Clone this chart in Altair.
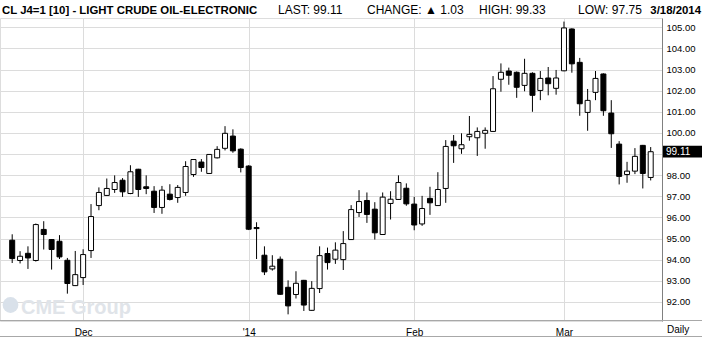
import json
import altair as alt
import pandas as pd

# ---- data (daily OHLC, CL J4 light crude) ----
opens = [94.92, 93.96, 94.30, 93.96, 95.43, 94.95, 94.87, 93.97, 92.77, 93.15,
         94.43, 96.56, 97.04, 97.32, 97.76, 97.13, 98.28, 97.45, 97.24, 96.47,
         97.10, 96.94, 97.18, 98.03, 98.62, 98.08, 98.82, 99.27, 99.85, 99.23,
         98.43, 95.52, 94.21, 93.56, 94.02, 92.69, 92.35, 93.02, 91.60, 92.63,
         94.29, 94.02, 94.00, 94.95, 96.23, 96.80, 96.39, 95.19, 96.66, 96.85,
         97.38, 96.63, 95.69, 96.90, 96.56, 97.37, 99.61, 99.25, 99.82, 99.77,
         99.98, 100.07, 102.54, 102.93, 102.87, 102.25, 102.82, 102.01, 102.60, 102.11,
         102.94, 104.92, 103.34, 100.97, 101.92, 102.79, 100.94, 99.47, 98.03, 98.19,
         99.41, 97.89]
highs = [95.20, 94.40, 94.63, 95.71, 95.82, 94.97, 95.16, 94.08, 94.41, 94.49,
         96.63, 97.42, 97.84, 97.99, 97.86, 98.47, 98.30, 97.99, 97.48, 97.49,
         97.57, 97.53, 98.66, 98.76, 98.76, 99.00, 99.37, 100.32, 100.17, 99.27,
         98.47, 95.77, 94.63, 94.21, 94.15, 93.02, 93.45, 93.04, 92.98, 94.63,
         94.57, 94.82, 95.35, 96.58, 97.29, 97.18, 96.72, 97.18, 97.24, 97.99,
         97.61, 96.97, 97.02, 97.45, 98.14, 99.66, 99.90, 99.98, 100.80, 100.26,
         100.26, 102.69, 103.29, 103.09, 102.91, 103.51, 102.87, 102.93, 103.12, 102.98,
         105.27, 104.95, 103.55, 102.08, 102.93, 102.82, 101.55, 99.61, 98.63, 99.28,
         99.43, 99.33]
lows = [93.84, 93.82, 93.56, 93.91, 94.48, 93.53, 94.03, 92.39, 92.75, 92.80,
        94.08, 96.34, 97.02, 97.16, 96.97, 97.10, 96.97, 97.10, 96.21, 96.17,
        96.80, 96.69, 97.02, 97.92, 98.16, 98.06, 98.79, 99.17, 99.06, 98.13,
        95.40, 94.03, 93.27, 93.48, 92.33, 91.41, 92.16, 91.57, 91.58, 92.42,
        93.53, 93.80, 93.51, 94.93, 96.02, 95.74, 94.95, 95.17, 95.90, 96.83,
        96.55, 95.39, 95.60, 96.12, 96.54, 96.69, 98.58, 99.01, 99.63, 98.91,
        99.25, 100.05, 101.95, 102.28, 101.66, 101.97, 101.00, 101.55, 101.78, 101.81,
        102.92, 102.85, 100.81, 100.10, 101.55, 100.81, 99.29, 97.56, 97.64, 98.05,
        97.37, 97.75]
closes = [94.05, 94.16, 94.08, 95.66, 95.19, 94.48, 94.13, 92.87, 93.29, 94.24,
          96.04, 97.18, 97.37, 97.65, 97.21, 98.16, 97.32, 97.37, 96.47, 97.29,
          96.85, 97.42, 98.41, 98.74, 98.36, 98.98, 99.22, 99.98, 99.15, 98.36,
          95.44, 95.47, 93.42, 93.69, 92.36, 91.81, 92.88, 91.85, 92.64, 94.19,
          93.86, 94.45, 94.76, 96.37, 96.75, 96.14, 95.27, 96.96, 96.86, 97.65,
          96.64, 95.64, 96.42, 96.69, 97.32, 99.36, 99.39, 99.44, 99.93, 100.07,
          100.12, 102.09, 102.87, 102.73, 102.16, 102.82, 101.78, 102.58, 102.33, 102.60,
          104.97, 103.27, 101.38, 101.54, 102.58, 101.05, 99.96, 97.94, 98.19, 98.89,
          98.08, 99.11]

holidays = ["2013-11-28", "2013-12-25", "2014-01-01", "2014-01-20", "2014-02-17"]
month_tick_labels = ["Dec", "'14", "Feb", "Mar"]
y_ticks = [92, 93, 94, 95, 96, 97, 98, 99, 100, 101, 102, 103, 104, 105]

symbol_title = "CL J4=1 [10] - LIGHT CRUDE OIL-ELECTRONIC"
period_label = "Daily"
brand = "CME Group"

# trading calendar
dates = [d for d in pd.bdate_range("2013-11-18", "2014-03-18")
         if d.strftime("%Y-%m-%d") not in holidays]
n = len(opens)
dates = dates[-n:]

df = pd.DataFrame({
    "idx": list(range(n)),
    "date": [d.strftime("%Y-%m-%d") for d in dates],
    "open": opens, "high": highs, "low": lows, "close": closes,
})
df["down"] = df["close"] < df["open"]

tick_idx = [i for i in range(1, n) if dates[i].month != dates[i - 1].month]
label_expr = ""
for i, lab in zip(tick_idx, month_tick_labels):
    label_expr += f"datum.value == {i} ? {json.dumps(lab)} : "
label_expr += "''"

# the last-price tag hides the grid label it sits on
last_close = closes[-1]
y_label_expr = (f"abs(datum.value - {last_close}) < 0.5 ? '' : "
                "format(datum.value, '.2f')")

SANS = "'Liberation Sans', Arial, sans-serif"
GRID = "#dcdcdc"

W, H = 662, 303
xs = alt.Scale(domain=[-0.9125, 81.8], nice=False, zero=False)
ys = alt.Scale(domain=[91.095, 105.44], nice=False, zero=False)

xaxis = alt.Axis(values=tick_idx, labelExpr=label_expr, grid=True, gridColor=GRID,
                 ticks=False, domain=False, title=None, labelFont=SANS,
                 labelFontSize=10, labelColor="black", labelPadding=6,
                 labelAngle=0)
yaxis = alt.Axis(orient="right", values=y_ticks, labelExpr=y_label_expr, grid=True,
                 gridColor=GRID, ticks=False, domain=True, domainColor="#808080",
                 title=None, labelFont=SANS, labelFontSize=9.5, labelColor="black",
                 labelPadding=4)

base = alt.Chart(df)

wicks = base.mark_rule(color="black", strokeWidth=1).encode(
    x=alt.X("idx:Q", scale=xs, axis=xaxis),
    y=alt.Y("low:Q", scale=ys, axis=yaxis),
    y2="high:Q",
)

bodies = base.mark_bar(size=5, stroke="black", strokeWidth=1).encode(
    x=alt.X("idx:Q", scale=xs, axis=xaxis),
    y=alt.Y("open:Q", scale=ys, axis=yaxis),
    y2="close:Q",
    fill=alt.condition("datum.down", alt.value("black"), alt.value("white")),
)

last = df.iloc[[-1]].copy()
last["lo"] = last["close"] - 0.28
last["hi"] = last["close"] + 0.28
last["lab"] = last["close"].map(lambda v: f"{v:.2f}")

tag_box = alt.Chart(last).mark_rect(color="black").encode(
    x=alt.value(663), x2=alt.value(702),
    y=alt.Y("lo:Q", scale=ys, axis=yaxis), y2="hi:Q",
)
tag_text = alt.Chart(last).mark_text(align="left", baseline="middle", color="white",
                                     font=SANS, fontSize=10).encode(
    x=alt.value(666), y=alt.Y("close:Q", scale=ys, axis=yaxis), text="lab:N",
)

# header texts
chg = closes[-1] - closes[-2]
arrow = "\u25b2" if chg >= 0 else "\u25bc"
header = [
    (symbol_title, 2, "left", 11.4, "bold"),
    (f"LAST: {closes[-1]:.2f}", 278, "left", 12, "normal"),
    (f"CHANGE: {arrow} {abs(chg):.2f}", 367, "left", 12, "normal"),
    (f"HIGH: {highs[-1]:.2f}", 479, "left", 12, "normal"),
    (f"LOW: {lows[-1]:.2f}", 578, "left", 12, "normal"),
    (f"{dates[-1].month}/{dates[-1].day}/{dates[-1].year}", 701, "right", 11.4, "bold"),
]
header_layers = []
for txt, xpos, al, fs, fw in header:
    header_layers.append(
        alt.Chart(pd.DataFrame({"t": [txt]})).mark_text(
            align=al, baseline="alphabetic", font=SANS, fontSize=fs, fontWeight=fw,
            color="black").encode(x=alt.value(xpos), y=alt.value(-4.5), text="t:N")
    )

period = alt.Chart(pd.DataFrame({"t": [period_label]})).mark_text(
    align="left", baseline="alphabetic", font=SANS, fontSize=10, color="black"
).encode(x=alt.value(667), y=alt.value(315), text="t:N")

logo_dot = alt.Chart(pd.DataFrame({"t": [brand]})).mark_point(
    shape="circle", filled=True, size=250, color="#d9e1ea", opacity=1
).encode(x=alt.value(10.5), y=alt.value(287))
logo_text = alt.Chart(pd.DataFrame({"t": [brand]})).mark_text(
    align="left", baseline="alphabetic", font=SANS, fontSize=20, fontWeight="bold",
    color="#e0e4e9"
).encode(x=alt.value(21), y=alt.value(296), text="t:N")

bottom_line = alt.Chart(pd.DataFrame({"t": [0]})).mark_rule(color="#a8a8a8", strokeWidth=1).encode(
    x=alt.value(0), x2=alt.value(702), y=alt.value(302.5))
frame_line = alt.Chart(pd.DataFrame({"t": [0]})).mark_rule(color="#a8a8a8", strokeWidth=1).encode(
    x=alt.value(0), x2=alt.value(702), y=alt.value(318.5))

chart = alt.layer(
    logo_dot, logo_text, wicks, bodies, bottom_line, frame_line, tag_box, tag_text,
    period, *header_layers
).properties(
    width=W, height=H,
    autosize=alt.AutoSizeParams(type="none"),
    padding={"left": 0, "top": 18, "right": 40, "bottom": 16},
).configure_view(stroke=None).configure(background="white")

chart.save("out.html", embed_options={"renderer": "svg", "actions": False})
